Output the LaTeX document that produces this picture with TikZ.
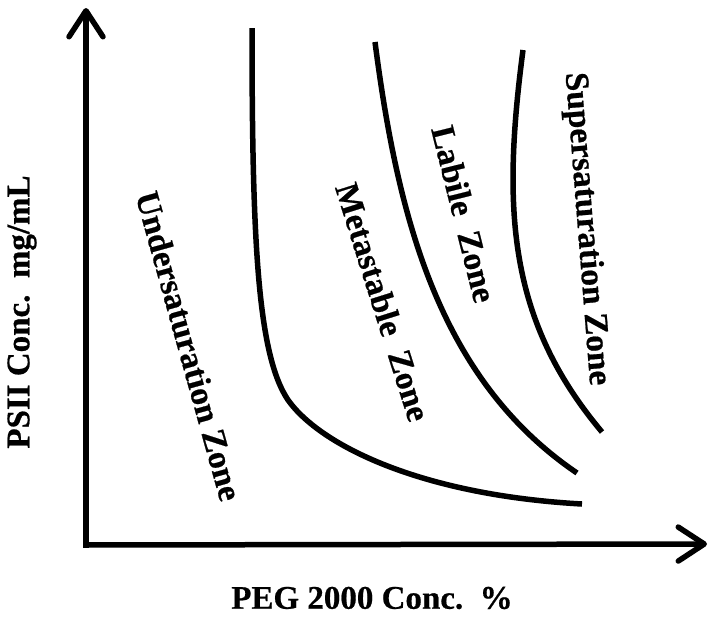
\documentclass[tikz,border=0pt]{standalone}
\usepackage{fontspec}
\setmainfont{Liberation Serif}
\newfontfamily\heavyfont{Liberation Serif}[BoldFeatures={FakeBold=0.6}]
\usetikzlibrary{arrows.meta}
\begin{document}
\begin{tikzpicture}[x=1pt,y=-1pt,
  axis/.style={line width=5.5pt,-{Straight Barb[length=26pt,width=34pt,round]}},
  curve/.style={line width=5.5pt,line cap=butt},
  zone/.style={font=\heavyfont\fontsize{33.5}{36}\selectfont\bfseries,inner sep=0pt},
  axlabel/.style={font=\heavyfont\fontsize{33}{36}\selectfont\bfseries,inner sep=0pt}]
\useasboundingbox (0,0) rectangle (717,616);
\coordinate (origin) at (86,545);
\coordinate (ytip) at (86,8);
\coordinate (xtip) at (707,544);
\draw[axis] (86,547.75) -- (ytip);
\draw[axis] (83.25,545) -- (xtip);
% boundary curves
\coordinate (c1a) at (252,28);
\coordinate (c1b) at (288,400);
\coordinate (c1c) at (582,504);
\draw[curve] (c1a) .. controls (252,245) and (258,355) .. (c1b)
  .. controls (320,445) and (420,495) .. (c1c);
\coordinate (c2a) at (375,42);
\coordinate (c2b) at (577,473);
\draw[curve] (c2a) .. controls (398,220) and (440,380) .. (c2b);
\coordinate (c3a) at (523,50);
\coordinate (c3b) at (602,432);
\draw[curve] (c3a) .. controls (502,210) and (508,320) .. (c3b);
% zone labels
\node[zone,rotate=-74.5] (under) at (189,346) {Undersaturation Zone};
\node[zone,rotate=-72.5] (meta) at (383,302) {Metastable\ \ Zone};
\node[zone,rotate=-76] (labile) at (464,214) {Labile\ \ Zone};
\node[zone,rotate=-85.5] (super) at (586,229) {Supersaturation Zone};
% axis labels
\node[axlabel,rotate=90] (ylab) at (22,312) {PSII Conc.\ \ mg/mL};
\node[axlabel] (xlab) at (372,598) {PEG 2000 Conc.\ \ \%};
\end{tikzpicture}
\end{document}
